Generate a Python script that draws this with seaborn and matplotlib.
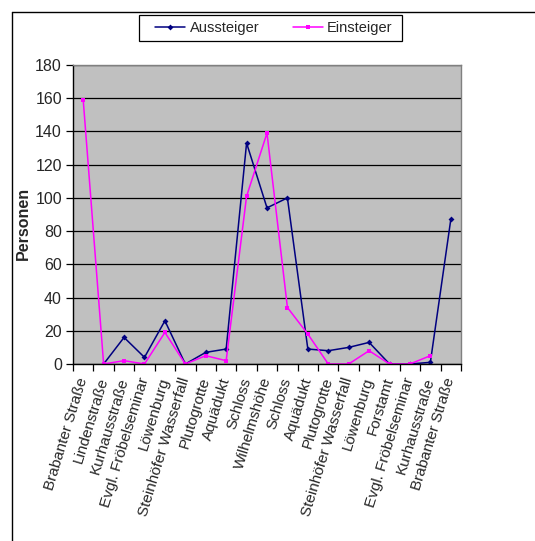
import matplotlib
matplotlib.use("Agg")
import matplotlib.pyplot as plt
from matplotlib.lines import Line2D
from matplotlib.patches import Rectangle
import numpy as np
import pandas as pd
import seaborn as sns

# Stops along the route (round trip)
stops = [
    "Brabanter Straße", "Lindenstraße", "Kurhausstraße", "Evgl. Fröbelseminar",
    "Löwenburg", "Steinhöfer Wasserfall", "Plutogrotte", "Aquädukt", "Schloss",
    "Wilhelmshöhe", "Schloss", "Aquädukt", "Plutogrotte", "Steinhöfer Wasserfall",
    "Löwenburg", "Forstamt", "Evgl. Fröbelseminar", "Kurhausstraße", "Brabanter Straße",
]
aussteiger = [np.nan, 0, 16, 4, 26, 0, 7, 9, 133, 94, 100, 9, 8, 10, 13, 0, 0, 1, 87]
einsteiger = [159, 0, 2, 0, 19, 0, 5, 2, 101, 139, 34, 18, 0, 0, 8, 0, 0, 5, np.nan]
y_ticks = list(range(0, 181, 20))

series_colors = {"Aussteiger": "#000080", "Einsteiger": "#FF00FF"}
series_markers = {"Aussteiger": "D", "Einsteiger": "s"}

pos = np.arange(len(stops))
df = pd.concat([
    pd.DataFrame({"pos": pos, "Personen": aussteiger, "Reihe": "Aussteiger"}),
    pd.DataFrame({"pos": pos, "Personen": einsteiger, "Reihe": "Einsteiger"}),
]).dropna()

sns.set_theme(style="white")
plt.rcParams["font.family"] = ["Liberation Sans", "DejaVu Sans"]

W, H = 535, 541
fig = plt.figure(figsize=(W / 100, H / 100), dpi=100)
ax = fig.add_axes([73 / W, 1 - 364 / H, (461 - 73) / W, (364 - 65) / H])
ax.set_facecolor("#C0C0C0")

for name in ["Aussteiger", "Einsteiger"]:
    sub = df[df["Reihe"] == name]
    sns.lineplot(data=sub, x="pos", y="Personen", ax=ax, color=series_colors[name],
                 marker=series_markers[name], markersize=3, markeredgewidth=0,
                 linewidth=1.1, sort=False, estimator=None, legend=False)

ax.set_xlim(-0.5, len(stops) - 0.5)
ax.set_ylim(0, 180)
ax.set_yticks(y_ticks)
ax.yaxis.grid(True, color="black", linewidth=0.9)
ax.set_axisbelow(True)

# category boundaries carry the tick marks, centres carry the labels
ax.set_xticks(np.arange(-0.5, len(stops), 1.0))
ax.set_xticklabels([])
ax.set_xticks(pos, minor=True)
ax.set_xticklabels(stops, minor=True, rotation=73, ha="right", va="center",
                   rotation_mode="anchor", fontsize=11)
ax.tick_params(axis="x", which="major", direction="out", length=5, width=0.9,
               color="black", bottom=True)
ax.tick_params(axis="x", which="minor", length=0, pad=10)
ax.tick_params(axis="y", direction="out", length=5, width=0.9, color="black",
               left=True, labelsize=11.5, pad=3)

for side in ["top", "right"]:
    ax.spines[side].set_color("#808080")
    ax.spines[side].set_linewidth(1.0)
for side in ["left", "bottom"]:
    ax.spines[side].set_color("black")
    ax.spines[side].set_linewidth(1.0)

ax.set_xlabel("")
ax.set_ylabel("Personen", fontsize=11.5, fontweight="bold")
ax.yaxis.set_label_coords(-0.108, 0.47)

# legend entries without their own frame, boxed separately
handles = [
    Line2D([], [], color=series_colors[n], marker=series_markers[n], markersize=3,
           markeredgewidth=0, linewidth=1.1, label=n)
    for n in ["Aussteiger", "Einsteiger"]
]
fig.legend(handles=handles, loc="center", ncol=2,
           bbox_to_anchor=(274 / W, 1 - 28 / H), frameon=False,
           fontsize=10.5, handlelength=2.05, columnspacing=2.3,
           borderpad=0.3, handletextpad=0.3)
fig.add_artist(Rectangle((139 / W, 1 - 41 / H), (402 - 139) / W, 26 / H,
                         transform=fig.transFigure, fill=False,
                         edgecolor="black", linewidth=0.9))

# outer chart frame
fig.add_artist(Line2D([12 / W, 12 / W], [0, 1 - 12 / H], transform=fig.transFigure,
                      color="black", linewidth=1.0))
fig.add_artist(Line2D([12 / W, 1], [1 - 12 / H, 1 - 12 / H], transform=fig.transFigure,
                      color="black", linewidth=1.0))

fig.savefig("out.png", dpi=100)
